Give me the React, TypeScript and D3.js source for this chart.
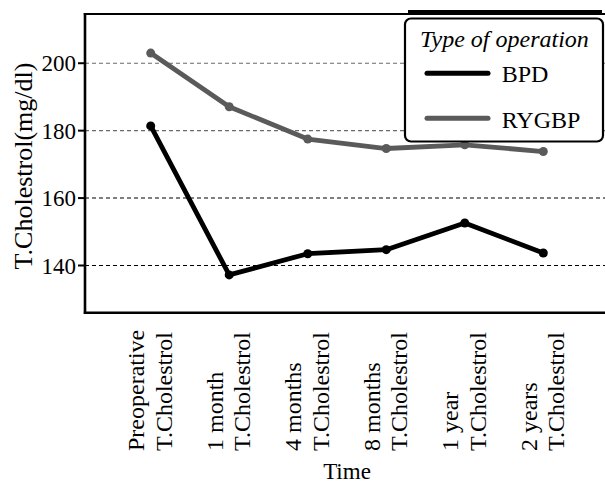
import React from "react";
import * as d3 from "d3";

const categories = ["Preoperative", "1 month", "4 months", "8 months", "1 year", "2 years"];
const bpd = [181.4, 137.2, 143.5, 144.7, 152.6, 143.7];
const rygbp = [203.0, 187.1, 177.5, 174.7, 175.8, 173.8];
const yTicks = [140, 160, 180, 200];
const seriesNames = ["BPD", "RYGBP"];
const seriesColors = ["#000000", "#5a5a5a"];

const W = 605;
const H = 492;
const FONT = "Liberation Serif, Times New Roman, Times, serif";

export default function App() {
  const left = 85;
  const right = 609;
  const top = 14;
  const bottom = 312.7;
  const x = d3.scalePoint<string>().domain(categories).range([150.7, 543.3]);
  const y = d3.scaleLinear().domain([126, 214.6]).range([bottom, top]);
  const line = d3
    .line<number>()
    .x((_, i) => x(categories[i]) as number)
    .y((d) => y(d));
  const series = [bpd, rygbp];

  return (
    <svg
      width={W}
      height={H}
      style={{ position: "absolute", left: 0, top: 0, background: "#fff", fontFamily: FONT }}
    >
      <rect x={0} y={0} width={W} height={H} fill="#fff" />
      {yTicks.map((t) => (
        <line
          key={t}
          x1={left}
          x2={right}
          y1={y(t)}
          y2={y(t)}
          stroke={t >= 180 ? "#6a6a6a" : "#000"}
          strokeWidth={1.1}
          strokeDasharray="4,3"
        />
      ))}
      {series.map((s, si) => (
        <g key={si}>
          <path
            d={line(s) || ""}
            fill="none"
            stroke={seriesColors[si]}
            strokeWidth={4.8}
            strokeLinejoin="round"
          />
          {s.map((v, i) => (
            <circle key={i} cx={x(categories[i])} cy={y(v)} r={4.5} fill={seriesColors[si]} />
          ))}
        </g>
      ))}
      <line x1={left} x2={left} y1={top - 1} y2={bottom + 1.2} stroke="#000" strokeWidth={2.6} />
      <line x1={left - 1.2} x2={right} y1={bottom} y2={bottom} stroke="#000" strokeWidth={2.6} />
      <line x1={left - 1.2} x2={right} y1={top} y2={top} stroke="#000" strokeWidth={2.2} />
      <rect x={408} y={10} width={194} height={5} fill="#000" />
      {yTicks.map((t) => (
        <g key={t}>
          <line x1={left - 7} x2={left} y1={y(t)} y2={y(t)} stroke="#000" strokeWidth={2} />
          <text x={left - 9} y={y(t) + 8} textAnchor="end" fontSize={23} fill="#000" style={{ fontFamily: FONT }}>
            {t}
          </text>
        </g>
      ))}
      {categories.map((c) => (
        <text
          key={c}
          transform={`translate(${x(c)},451) rotate(-90)`}
          textAnchor="start"
          fontSize={24}
          fill="#000"
          style={{ fontFamily: FONT }}
        >
          <tspan x={0} y={-6.5}>{c}</tspan>
          <tspan x={0} y={21}>T.Cholestrol</tspan>
        </text>
      ))}
      <text x={(left + right) / 2} y={479} textAnchor="middle" fontSize={23} fill="#000" style={{ fontFamily: FONT }}>
        Time
      </text>
      <text
        transform={`translate(32,166) rotate(-90)`}
        textAnchor="middle"
        fontSize={26}
        fill="#000"
        style={{ fontFamily: FONT }}
      >
        T.Cholestrol(mg/dl)
      </text>
      <rect x={405} y={18.5} width={198} height={123} rx={6} ry={6} fill="#fff" stroke="#000" strokeWidth={2.2} />
      <text x={420} y={46.7} fontSize={24} fontStyle="italic" fill="#000" style={{ fontFamily: FONT }}>
        Type of operation
      </text>
      {seriesNames.map((n, i) => (
        <g key={n}>
          <line
            x1={427}
            x2={488}
            y1={73.3 + i * 45}
            y2={73.3 + i * 45}
            stroke={seriesColors[i]}
            strokeWidth={5}
            strokeLinecap="round"
          />
          <text x={501.7} y={81.7 + i * 46.6} fontSize={24} fill="#000" style={{ fontFamily: FONT }}>
            {n}
          </text>
        </g>
      ))}
    </svg>
  );
}
